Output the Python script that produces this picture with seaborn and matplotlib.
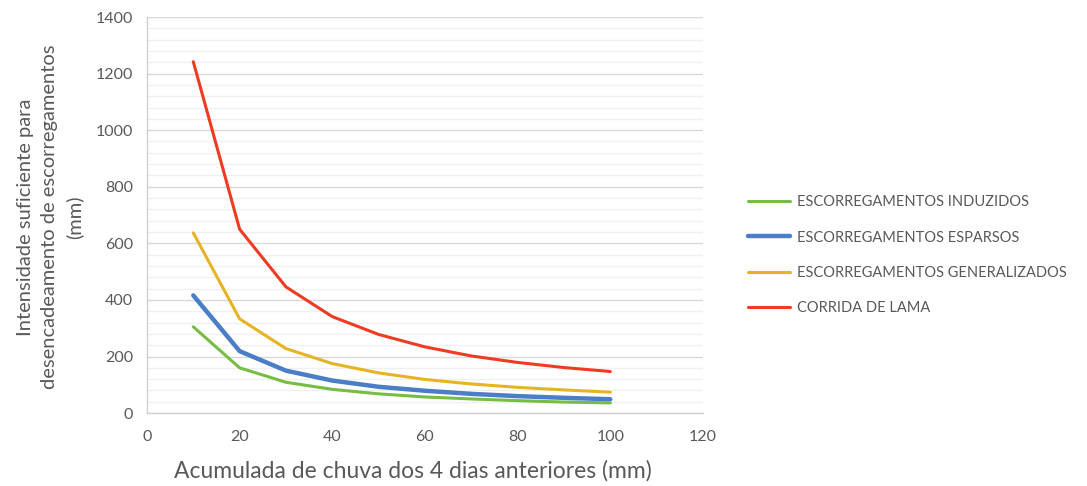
import matplotlib
matplotlib.use("Agg")
import matplotlib.pyplot as plt
from matplotlib.ticker import MultipleLocator
import seaborn as sns
import pandas as pd

# Accumulated rainfall of the previous 4 days (mm)
chuva_acumulada = [10, 20, 30, 40, 50, 60, 70, 80, 90, 100]

# Rain intensity needed to trigger each type of event (mm)
induzidos = [305, 160, 109, 84, 68, 57, 50, 44, 39, 36]
esparsos = [416, 219, 150, 115, 93, 79, 68, 60, 54, 49]
generalizados = [637, 333, 228, 175, 142, 119, 103, 91, 82, 74]
corrida_lama = [1242, 650, 446, 341, 278, 234, 202, 179, 161, 147]

series_names = [
    "ESCORREGAMENTOS INDUZIDOS",
    "ESCORREGAMENTOS ESPARSOS",
    "ESCORREGAMENTOS GENERALIZADOS",
    "CORRIDA DE LAMA",
]
series_values = [induzidos, esparsos, generalizados, corrida_lama]

x_ticks = [0, 20, 40, 60, 80, 100, 120]
y_ticks = [0, 200, 400, 600, 800, 1000, 1200, 1400]

rows = []
for name, vals in zip(series_names, series_values):
    for x, y in zip(chuva_acumulada, vals):
        rows.append({"chuva": x, "intensidade": y, "serie": name})
df = pd.DataFrame(rows)

palette = {
    "ESCORREGAMENTOS INDUZIDOS": "#76BD43",
    "ESCORREGAMENTOS ESPARSOS": "#4A7EC6",
    "ESCORREGAMENTOS GENERALIZADOS": "#E6B325",
    "CORRIDA DE LAMA": "#EE3B22",
}
widths = {
    "ESCORREGAMENTOS INDUZIDOS": 2.2,
    "ESCORREGAMENTOS ESPARSOS": 3.2,
    "ESCORREGAMENTOS GENERALIZADOS": 2.2,
    "CORRIDA DE LAMA": 2.2,
}

sns.set_theme(style="white")
plt.rcParams["font.family"] = ["Lato", "DejaVu Sans"]
text_color = "#595959"

fig = plt.figure(figsize=(10.87, 4.86), dpi=100)
ax = fig.add_axes([0.1352, 0.150, 0.5115, 0.815])

sns.lineplot(data=df, x="chuva", y="intensidade", hue="serie",
             hue_order=series_names, palette=palette, ax=ax,
             legend=False, solid_capstyle="round")
for line, name in zip(ax.get_lines(), series_names):
    line.set_linewidth(widths[name])

ax.set_xlim(0, 120)
ax.set_ylim(0, 1400)
ax.set_xticks(x_ticks)
ax.set_yticks(y_ticks)
ax.yaxis.set_minor_locator(MultipleLocator(40))

ax.grid(which="major", axis="y", color="#D9D9D9", linewidth=1.0)
ax.grid(which="minor", axis="y", color="#F0F0F0", linewidth=1.0)
ax.grid(which="major", axis="x", visible=False)
ax.set_axisbelow(True)

for side in ["top", "right"]:
    ax.spines[side].set_visible(False)
for side in ["left", "bottom"]:
    ax.spines[side].set_color("#D0D0D0")
    ax.spines[side].set_linewidth(1.0)

ax.tick_params(axis="both", which="major", direction="out", length=4,
               width=1, color="#D0D0D0", labelsize=11.5,
               labelcolor=text_color, pad=6)
ax.tick_params(axis="y", which="minor", length=0)
ax.tick_params(axis="x", which="major", pad=8)

ax.set_xlabel("Acumulada de chuva dos 4 dias anteriores (mm)",
              fontsize=16.5, color=text_color)
ax.xaxis.set_label_coords(0.478, -0.118)
ax.set_ylabel("Intensidade suficiente para\ndesencadeamento de escorregamentos\n(mm)",
              fontsize=14.5, color=text_color, linespacing=1.5)
ax.yaxis.set_label_coords(-0.114, 0.495)

handles = [plt.Line2D([0], [0], color=palette[n], linewidth=widths[n]) for n in series_names]
fig.legend(handles, series_names, loc="upper left",
           bbox_to_anchor=(0.676, 0.625), frameon=False,
           fontsize=10.5, labelcolor=text_color, handlelength=2.9,
           handletextpad=0.45, labelspacing=1.45)

fig.savefig("out.png", dpi=100)
